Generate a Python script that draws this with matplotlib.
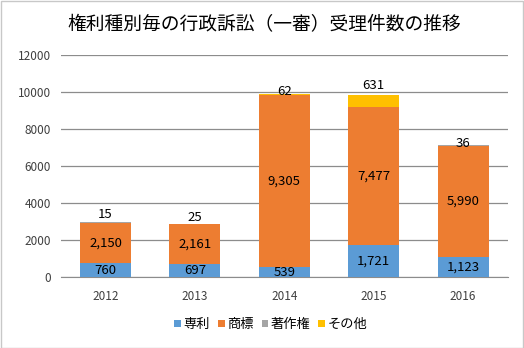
import numpy as np
import matplotlib
matplotlib.use('Agg')
import matplotlib.pyplot as plt
from matplotlib.patches import Rectangle

plt.rcParams['font.family'] = ['Noto Sans CJK JP', 'DejaVu Sans']

years = ['2012', '2013', '2014', '2015', '2016']
patent = [760, 697, 539, 1721, 1123]
trademark = [2150, 2161, 9305, 7477, 5990]
copyright_ = [60, 10, 10, 5, 10]
other = [15, 25, 62, 631, 36]

series = [('専利', patent, '#5B9BD5'),
          ('商標', trademark, '#ED7D31'),
          ('著作権', copyright_, '#A5A5A5'),
          ('その他', other, '#FFC000')]

fig = plt.figure(figsize=(5.24, 3.48), dpi=100)
ax = fig.add_axes([0.116, 0.203, 0.853, 0.639])

x = np.arange(len(years))
bottom = np.zeros(len(years))
for name, vals, col in series:
    ax.bar(x, vals, 0.57, bottom=bottom, color=col, label=name, zorder=3)
    if name in ('専利', '商標'):
        for xi, b, v in zip(x, bottom, vals):
            ax.text(xi, b + v / 2, f'{v:,}', ha='center', va='center',
                    fontsize=9.5, color='#000000', zorder=4)
    bottom = bottom + np.array(vals)

# labels for the small top segment sit just above each bar
lift = [8, 6, 2, 10, 1]
for xi, top, v, d in zip(x, bottom, other, lift):
    ax.annotate(str(v), xy=(xi, top), xytext=(0, d * 0.72),
                textcoords='offset points', ha='center', va='center',
                fontsize=9.5, zorder=4)

ax.set_ylim(0, 12000)
ax.set_xlim(-0.5, 4.5)
ax.set_yticks(range(0, 12001, 2000))
ax.set_xticks(x, years)
ax.yaxis.grid(True, color='#8C8C8C', linewidth=0.9, zorder=0)
for s in ['top', 'right', 'left']:
    ax.spines[s].set_visible(False)
ax.spines['bottom'].set_color('#8C8C8C')
ax.tick_params(axis='both', length=0, labelsize=8.5, colors='#404040')
ax.tick_params(axis='y', pad=7)
ax.tick_params(axis='x', pad=9)

fig.suptitle('権利種別毎の行政訴訟（一審）受理件数の推移', x=0.505, y=0.96,
             fontsize=13.5, color='#000000')

ax.legend(loc='upper center', bbox_to_anchor=(0.47, -0.13), ncol=4,
          frameon=False, fontsize=9.5, handlelength=0.5, handleheight=0.5,
          handletextpad=0.2, columnspacing=0.6)

fig.patches.append(Rectangle((0.001, 0.001), 0.997, 0.997, transform=fig.transFigure,
                             fill=False, edgecolor='#C8C8C8', linewidth=1))

fig.savefig('out.png', dpi=100)
